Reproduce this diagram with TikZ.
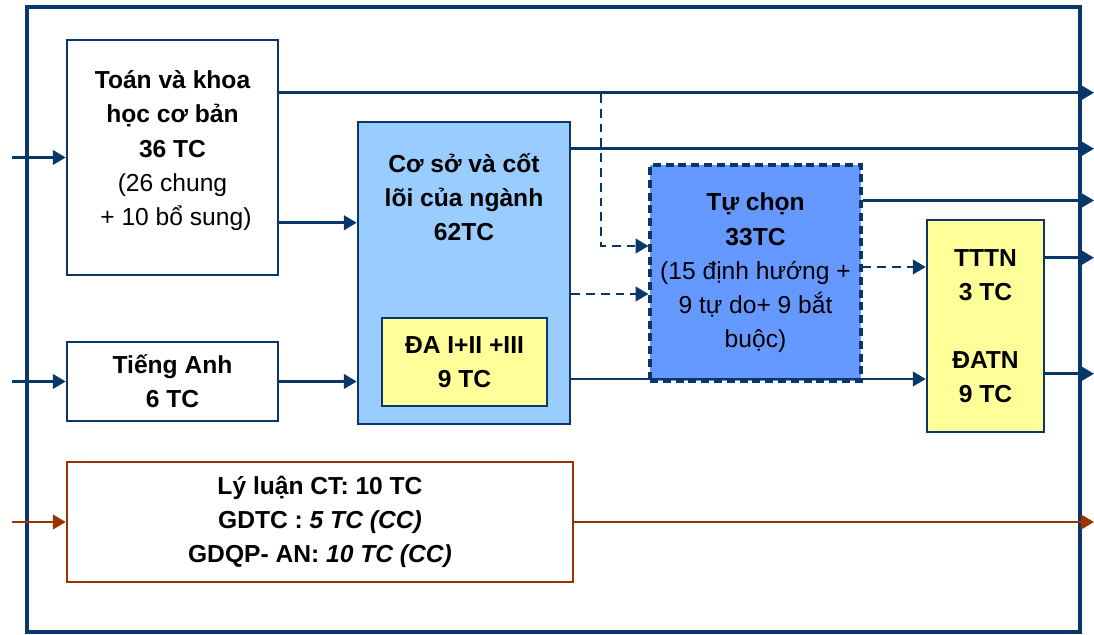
\documentclass[tikz,border=0pt]{standalone}
\usepackage{fontspec}
\setmainfont{Liberation Sans}
\definecolor{FrameBlue}{RGB}{10, 55, 105}
\definecolor{CoreBlue}{RGB}{153, 204, 255}
\definecolor{ElectBlue}{RGB}{102, 153, 255}
\definecolor{ProjYellow}{RGB}{255, 255, 153}
\definecolor{PolBrown}{RGB}{153, 51, 0}
\usetikzlibrary{arrows.meta, positioning, calc}
\tikzset{
  unit/.style={
    rectangle, draw=#1, line width=1.8pt, align=center, inner sep=0pt,
    font=\fontsize{17.5}{24.4}\selectfont\bfseries
  },
  unit/.default=FrameBlue,
  flow/.style={line width=1.8pt, color=#1, -{Triangle[length=0.32cm, width=0.36cm]}},
  flow/.default=FrameBlue,
  optflow/.style={flow, dash pattern=on 0.22cm off 0.15cm},
}

\begin{document}
\begin{tikzpicture}
\useasboundingbox (0,0) rectangle (27.35,-15.875);
\draw[FrameBlue, line width=2.4pt] (0.675,-0.175) rectangle (27.0,-15.8);

\node[unit, minimum width=5.275cm, minimum height=5.875cm] (toan) at (4.3125,-3.9375) {};
\node[unit, draw=none] (toantxt) at (4.3125,-3.77) {
  Toán và khoa\\học cơ bản\\36 TC\\
  \mdseries (26 chung\\ \mdseries\ + 10 bổ sung)
};
\node[unit, minimum width=5.275cm, minimum height=1.975cm] (eng) at (4.3125,-9.5375) {
  Tiếng Anh\\6 TC
};
\node[unit=PolBrown, minimum width=12.65cm, minimum height=3cm] (pol) at (8,-13.05) {
  Lý luận CT: 10 TC\\
  GDTC : \textit{5 TC (CC)}\\
  GDQP- AN: \textit{10 TC (CC)}
};
\node[unit, fill=CoreBlue, minimum width=5.3cm, minimum height=7.55cm] (core) at (11.6,-6.825) {};
\node[unit, draw=none] (coretxt) at (11.6,-4.925) {Cơ sở và cốt\\lõi của ngành\\62TC};
\node[unit, fill=ProjYellow, minimum width=4.125cm, minimum height=2.2cm] (da) at (11.6125,-9.05) {
  ĐA I+II +III\\9 TC
};
\node[unit, fill=ElectBlue, line width=2.2pt, dash pattern=on 0.2cm off 0.12cm,
  minimum width=5.275cm, minimum height=5.4cm] (elect) at (18.8875,-6.825) {
  Tự chọn\\33TC\\
  \mdseries(15 định hướng +\\\mdseries 9 tự do+ 9 bắt\\\mdseries buộc)
};
\node[unit, fill=ProjYellow, minimum width=2.925cm, minimum height=5.3cm] (thesis) at (24.6375,-8.15) {
  TTTN\\3 TC\\[24pt]ĐATN\\9 TC
};

% entry and exit points
\coordinate (inL) at (0.3,0);
\coordinate (outR) at (27.35,0);
\coordinate (toanA) at ([yshift=-1.35cm]toan.north east);
\coordinate (toanB) at ([yshift=-4.6cm]toan.north east);
\coordinate (coreA) at ([yshift=-0.7cm]core.north east);
\coordinate (coreB) at ([yshift=-0.525cm]core.east);
\coordinate (coreC) at ([yshift=-2.65cm]core.east);
\coordinate (electA) at ([yshift=-0.925cm]elect.north east);
\coordinate (electB) at ([yshift=0.15cm]elect.east);
\coordinate (thesisA) at ([yshift=-0.975cm]thesis.north east);
\coordinate (thesisB) at ([yshift=-3.875cm]thesis.north east);
\coordinate (branch) at (15.025,-2.35);

% inputs
\draw[flow] (inL |- toan.west) -- (toan.west);
\draw[flow] (inL |- eng.west) -- (eng.west);
\draw[flow=PolBrown] (inL |- pol.west) -- (pol.west);

% flows
\draw[flow] (toanA) -- (toanA -| outR);
\draw[flow] (toanB) -- (toanB -| core.west);
\draw[flow] (eng.east) -- (eng.east -| core.west);
\draw[flow] (coreA) -- (coreA -| outR);
\draw[optflow] (branch) |- ([yshift=0.675cm]elect.west);
\draw[optflow] (coreB) -- (coreB -| elect.west);
\draw[optflow] (electB) -- (electB -| thesis.west);
\draw[flow] (coreC) -- (coreC -| thesis.west);
\draw[flow] (electA) -- (electA -| outR);
\draw[flow] (thesisA) -- (thesisA -| outR);
\draw[flow] (thesisB) -- (thesisB -| outR);
\draw[flow=PolBrown] (pol.east) -- (pol.east -| outR);
\end{tikzpicture}
\end{document}
